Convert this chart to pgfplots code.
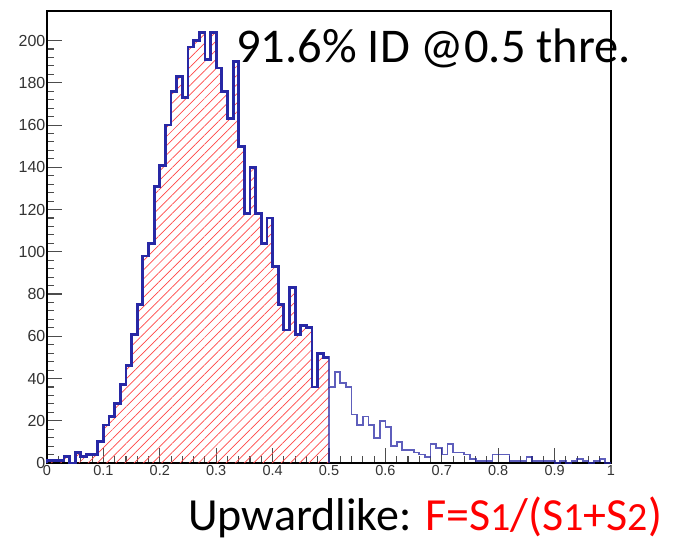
\documentclass[border=0pt]{standalone}
\usepackage{fontspec}
\setmainfont{Carlito}
\newfontfamily\arial{Liberation Sans}
\usepackage{pgfplots}
\usepackage{pgfplotstable}
\pgfplotsset{compat=1.18}
\usetikzlibrary{patterns.meta}
\definecolor{histblue}{RGB}{40,40,165}
\definecolor{hatchred}{RGB}{255,70,70}

\pgfplotstableread{
x y
0.00 0
0.00 1
0.01 1
0.02 1
0.03 3
0.04 0
0.05 5
0.06 3
0.07 4
0.08 4
0.09 10
0.10 18
0.11 22
0.12 28
0.13 37
0.14 46
0.15 61
0.16 75
0.17 98
0.18 104
0.19 131
0.20 141
0.21 160
0.22 176
0.23 183
0.24 173
0.25 197
0.26 200
0.27 204
0.28 191
0.29 204
0.30 187
0.31 176
0.32 163
0.33 190
0.34 150
0.35 118
0.36 140
0.37 118
0.38 104
0.39 116
0.40 93
0.41 75
0.42 63
0.43 83
0.44 61
0.45 65
0.46 64
0.47 36
0.48 52
0.49 50
0.50 50
}\parttab

\pgfplotstableread{
x y
0.00 0
0.00 1
0.01 1
0.02 1
0.03 3
0.04 0
0.05 5
0.06 3
0.07 4
0.08 4
0.09 10
0.10 18
0.11 22
0.12 28
0.13 37
0.14 46
0.15 61
0.16 75
0.17 98
0.18 104
0.19 131
0.20 141
0.21 160
0.22 176
0.23 183
0.24 173
0.25 197
0.26 200
0.27 204
0.28 191
0.29 204
0.30 187
0.31 176
0.32 163
0.33 190
0.34 150
0.35 118
0.36 140
0.37 118
0.38 104
0.39 116
0.40 93
0.41 75
0.42 63
0.43 83
0.44 61
0.45 65
0.46 64
0.47 36
0.48 52
0.49 50
0.50 36
0.51 43
0.52 38
0.53 36
0.54 23
0.55 18
0.56 22
0.57 18
0.58 12
0.59 20
0.60 17
0.61 8
0.62 10
0.63 6
0.64 6
0.65 5
0.66 4
0.67 3
0.68 9
0.69 7
0.70 4
0.71 9
0.72 5
0.73 5
0.74 4
0.75 2
0.76 1
0.77 1
0.78 1
0.79 4
0.80 4
0.81 4
0.82 1
0.83 1
0.84 1
0.85 3
0.86 1
0.87 1
0.88 1
0.89 1
0.90 0
0.91 1
0.92 0
0.93 1
0.94 2
0.95 1
0.96 0
0.97 1
0.98 2
0.99 0
1.00 0
}\fulltab

\begin{document}
\begin{tikzpicture}
\begin{axis}[
  at={(0,0)}, anchor=south west, scale only axis,
  width=564bp, height=452bp,
  xmin=0, xmax=1, ymin=0, ymax=214,
  xtick={0,0.1,0.2,0.3,0.4,0.5,0.6,0.7,0.8,0.9,1},
  ytick={0,20,40,60,80,100,120,140,160,180,200},
  minor x tick num=4, minor y tick num=4,
  tick pos=left, tick align=inside,
  major tick length=15bp, minor tick length=7bp,
  axis line style={black, line width=1.3bp},
  every tick/.style={black!70, line width=1.1bp},
  /pgf/number format/assume math mode=true,
  xticklabel style={font=\arial\fontsize{14.5bp}{15bp}\selectfont, text=black!80, inner sep=2.5bp},
  yticklabel style={font=\arial\fontsize{16bp}{17bp}\selectfont, text=black!80, inner sep=1.5bp},
  clip=false,
]
\addplot[const plot, draw=none, pattern={Lines[angle=45,distance=6.5bp,line width=0.7bp]}, pattern color=hatchred] table[x=x,y=y] {\parttab} \closedcycle;
\addplot[const plot, histblue, opacity=0.75, line width=1.8bp] table[x=x,y=y] {\fulltab};
\addplot[const plot, histblue, line width=2.8bp] table[x=x,y=y] {\parttab};
\addplot[histblue, opacity=0.7, line width=1.2bp] coordinates {(0.5,0) (0.5,36)};
\end{axis}
\node[anchor=base west, inner sep=0] at (189bp,400bp) {\fontsize{48.5bp}{50bp}\selectfont 91.6\% ID @0.5 thre.};
\node[anchor=base west, inner sep=0] at (141bp,-67bp) {\fontsize{46bp}{48bp}\selectfont Upwardlike: \textcolor{red}{F=S{\fontsize{40bp}{40bp}\selectfont 1}/(S{\fontsize{40bp}{40bp}\selectfont 1}+S{\fontsize{40bp}{40bp}\selectfont 2})}};
\pgfresetboundingbox
\path (-47bp,-79bp) rectangle (636bp,463bp);
\end{tikzpicture}
\end{document}
